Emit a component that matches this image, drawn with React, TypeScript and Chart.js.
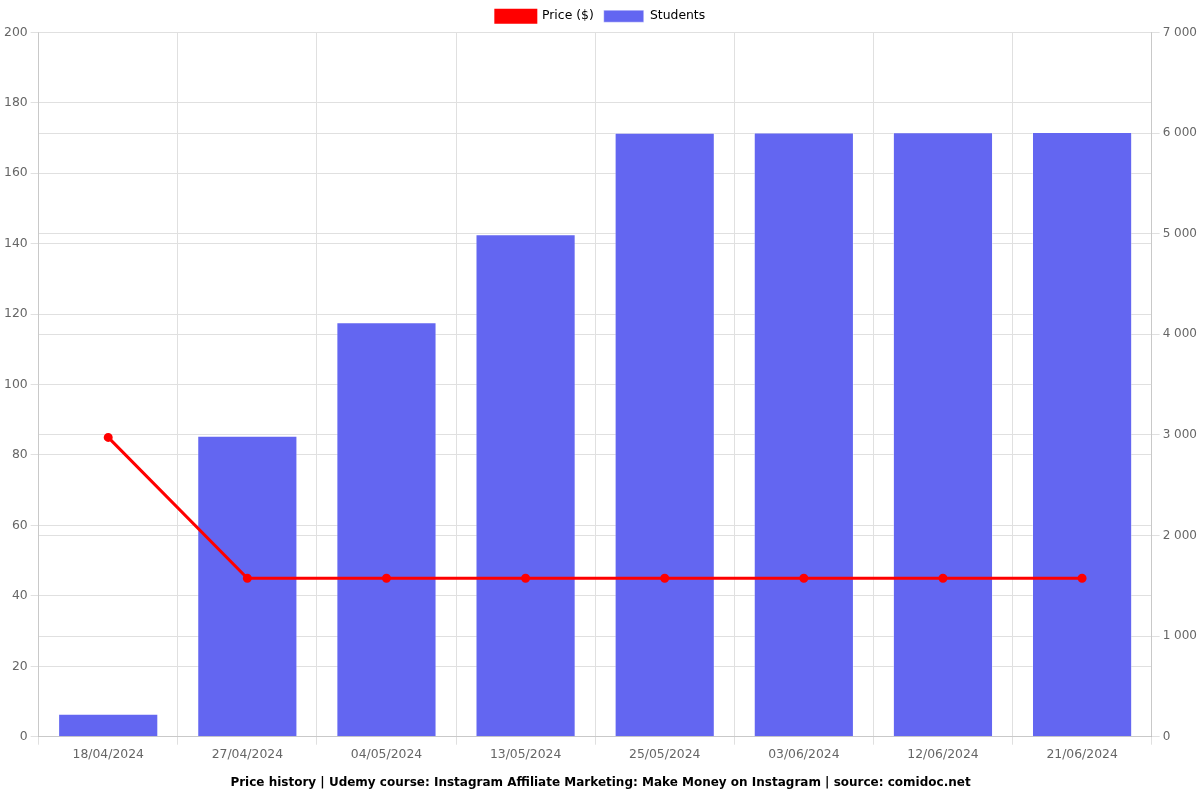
import React, { useEffect, useRef } from "react";
import { Chart, registerables } from "chart.js";

Chart.register(...registerables);

const dates = ["18/04/2024", "27/04/2024", "04/05/2024", "13/05/2024", "25/05/2024", "03/06/2024", "12/06/2024", "21/06/2024"];
const prices = [84.99, 44.99, 44.99, 44.99, 44.99, 44.99, 44.99, 44.99];
const students = [228, 2990, 4120, 4995, 6002, 6006, 6008, 6010];

export default function App() {
  const ref = useRef<HTMLCanvasElement | null>(null);
  useEffect(() => {
    if (!ref.current) return;
    Chart.defaults.font.family = "'DejaVu Sans', sans-serif";
    const tickFont = { size: 12.4 };
    const chart = new Chart(ref.current, {
      type: "bar",
      data: {
        labels: dates,
        datasets: [
          {
            type: "line",
            label: "Price ($)",
            data: prices,
            borderColor: "#ff0000",
            backgroundColor: "#ff0000",
            borderWidth: 3,
            pointRadius: 3,
            pointBackgroundColor: "#ff0000",
            yAxisID: "y",
            order: 0,
          },
          {
            type: "bar",
            label: "Students",
            data: students,
            backgroundColor: "#6366f1",
            borderColor: "rgba(255,255,255,0.4)",
            borderWidth: 1,
            yAxisID: "y1",
            order: 1,
          },
        ],
      },
      options: {
        animation: false,
        responsive: true,
        maintainAspectRatio: false,
        layout: { padding: { left: 1 } },
        plugins: {
          legend: {
            position: "top",
            labels: { color: "#000", font: { size: 12.4 }, boxWidth: 40, boxHeight: 12 },
          },
          title: {
            display: true,
            position: "bottom",
            text: "Price history | Udemy course: Instagram Affiliate Marketing: Make Money on Instagram | source: comidoc.net",
            color: "#000",
            font: { size: 12, weight: "bold" },
          },
        },
        scales: {
          x: {
            ticks: { color: "#666", font: tickFont },
            grid: { color: "#e0e0e0" },
          },
          y: {
            position: "left",
            min: 0,
            max: 200,
            ticks: { stepSize: 20, color: "#666", font: tickFont },
            grid: { color: "#e0e0e0" },
          },
          y1: {
            position: "right",
            min: 0,
            max: 7000,
            ticks: {
              stepSize: 1000,
              color: "#666",
              font: { size: 12 },
              callback: (v: any) => Number(v).toLocaleString("fr-FR").replace(/\u202f|\u00a0/g, " "),
            },
            grid: { color: "#e0e0e0" },
          },
        },
      },
    });
    return () => chart.destroy();
  }, []);
  return (
    <div style={{ position: "fixed", left: 0, top: 0, width: 1200, height: 800, background: "#fff" }}>
      <canvas ref={ref} />
    </div>
  );
}
